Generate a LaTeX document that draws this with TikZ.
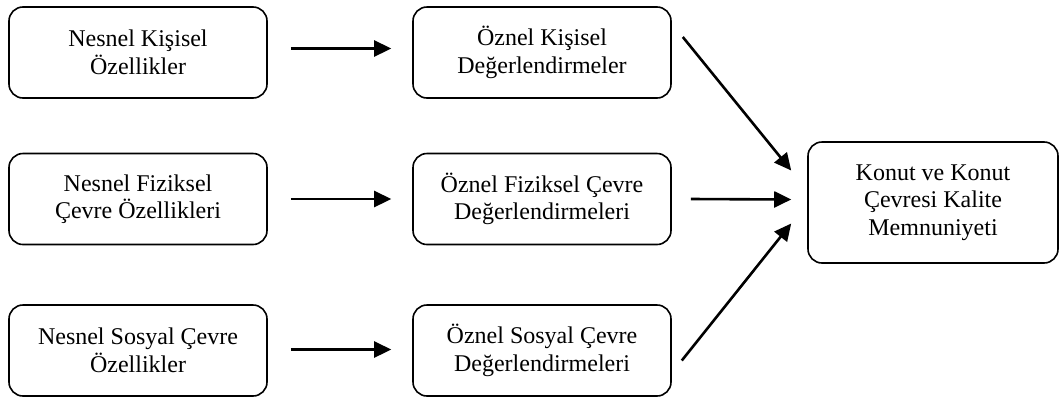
\documentclass[tikz,border=0pt]{standalone}
\usepackage{fontspec}
\setmainfont{Liberation Serif}
\usetikzlibrary{arrows.meta,calc}
\begin{document}
\begin{tikzpicture}[x=1pt,y=1pt,
  box/.style={draw,line width=1.6pt,rounded corners=14pt,align=center,
    font=\fontsize{24}{27.5}\selectfont,inner sep=0pt},
  sbox/.style={box,minimum width=258pt,minimum height=91pt},
  conn/.style={line width=2.6pt,-{Triangle[length=17pt,width=16pt]}}]
\useasboundingbox (0,0) rectangle (1059,-397);
\node[sbox] (n1) at (138,-52.5) {Nesnel Kişisel\\Özellikler};
\node[sbox] (n2) at (138,-199) {Nesnel Fiziksel\\Çevre Özellikleri};
\node[sbox] (n3) at (138,-350.5) {Nesnel Sosyal Çevre\\Özellikler};
\node[sbox] (m1) at (542,-52.5) {Öznel Kişisel\\Değerlendirmeler};
\node[sbox] (m2) at (542,-199) {Öznel Fiziksel Çevre\\Değerlendirmeleri};
\node[sbox] (m3) at (542,-350.5) {Öznel Sosyal Çevre\\Değerlendirmeleri};
\node[box,minimum width=250pt,minimum height=121pt] (r) at (933,-202.5) {Konut ve Konut\\Çevresi Kalite\\Memnuniyeti};
\draw[conn] ($(n1.east)+(23,4)$) -- ($(m1.west)+(-21,4)$);
\draw[conn] ($(n2.east)+(23,0)$) -- ($(m2.west)+(-21,0)$);
\draw[conn] ($(n3.east)+(23,1)$) -- ($(m3.west)+(-21,1)$);
\draw[conn] ($(m1.east)+(11,15.5)$) -- ($(r.west)+(-16,32)$);
\draw[conn] ($(m2.east)+(19,0)$) -- ($(r.west)+(-16,3)$);
\draw[conn] ($(m3.east)+(10,-10)$) -- ($(r.west)+(-16,-21)$);
\end{tikzpicture}
\end{document}
